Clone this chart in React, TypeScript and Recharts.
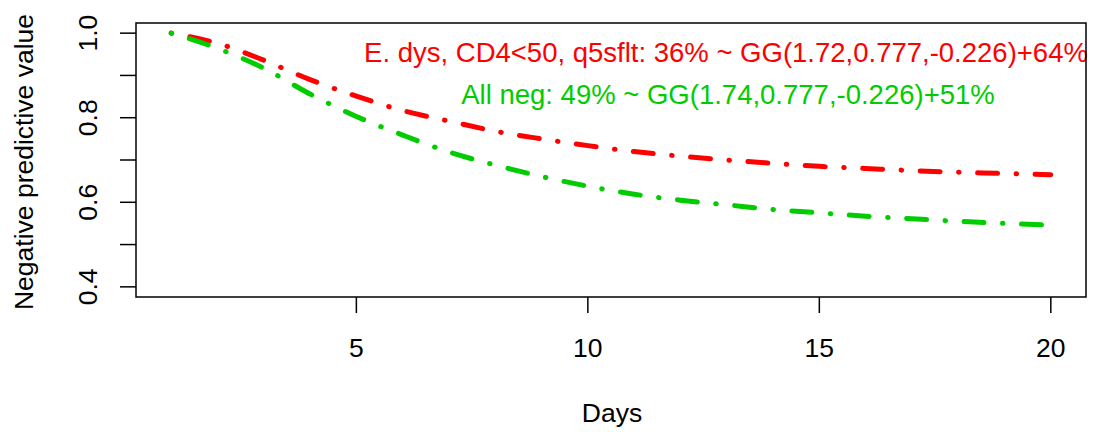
import React from 'react';
import { LineChart, Line, XAxis, YAxis, ReferenceArea } from 'recharts';

const days = [1, 2, 3, 4, 5, 6, 7, 8, 9, 10, 11, 12, 13, 14, 15, 16, 17, 18, 19, 20];
const edysNpv = [1.0, 0.976, 0.936, 0.89, 0.851, 0.817, 0.792, 0.768, 0.75, 0.734, 0.72, 0.709, 0.7, 0.692, 0.685, 0.68, 0.675, 0.671, 0.668, 0.665];
const allNegNpv = [1.0, 0.964, 0.917, 0.856, 0.803, 0.759, 0.719, 0.688, 0.661, 0.638, 0.619, 0.605, 0.594, 0.583, 0.575, 0.567, 0.561, 0.555, 0.55, 0.546];

const xTicks = [5, 10, 15, 20];
const yTicks = [0.4, 0.5, 0.6, 0.7, 0.8, 0.9, 1.0];
const yLabelled = [0.4, 0.6, 0.8, 1.0];

const xDomain = [0.24, 20.76];
const yDomain = [0.376, 1.024];

const edysLabel = 'E. dys, CD4<50, q5sflt: 36% ~ GG(1.72,0.777,-0.226)+64%';
const allNegLabel = 'All neg: 49% ~ GG(1.74,0.777,-0.226)+51%';

const data = days.map((d, i) => ({ day: d, edys: edysNpv[i], allNeg: allNegNpv[i] }));

const FONT = '"Liberation Sans", Arial, Helvetica, sans-serif';
const RED = '#FF0000';
const GREEN = '#00CD00';
const DASH = '0.5 18.5 20 18.5';
const AXIS_FONT = 26.5;

const XTick = ({ x, payload }: any) => (
  <text x={x} y={357} textAnchor="middle" fontFamily={FONT} fontSize={AXIS_FONT} fill="#000">
    {payload.value}
  </text>
);

const YTick = ({ y, payload }: any) => {
  const v = Math.round(payload.value * 10) / 10;
  if (!yLabelled.some((t) => Math.abs(t - v) < 1e-9)) return null;
  return (
    <text
      x={97}
      y={y}
      transform={`rotate(-90, 97, ${y})`}
      textAnchor="middle"
      fontFamily={FONT}
      fontSize={AXIS_FONT}
      fill="#000"
    >
      {v.toFixed(1)}
    </text>
  );
};

export default function App() {
  return (
    <div style={{ position: 'absolute', left: 0, top: 0, width: 1093, height: 432, background: '#fff' }}>
      <LineChart width={1093} height={432} data={data} margin={{ top: 23, right: 7, left: 0, bottom: 0 }}>
        <XAxis
          dataKey="day"
          type="number"
          domain={xDomain}
          ticks={xTicks}
          allowDataOverflow
          height={135}
          axisLine={false}
          tickSize={16}
          tickLine={{ stroke: '#000', strokeWidth: 1.5 }}
          tick={<XTick />}
        />
        <YAxis
          type="number"
          domain={yDomain}
          ticks={yTicks}
          allowDataOverflow
          width={136}
          axisLine={false}
          tickSize={16}
          tickLine={{ stroke: '#000', strokeWidth: 1.5 }}
          tick={<YTick />}
        />
        <ReferenceArea
          x1={xDomain[0]}
          x2={xDomain[1]}
          y1={yDomain[0]}
          y2={yDomain[1]}
          fill="none"
          stroke="#000"
          strokeWidth={1.5}
          ifOverflow="visible"
        />
        <Line
          dataKey="edys"
          type="monotone"
          stroke={RED}
          strokeWidth={5}
          strokeDasharray={DASH}
          strokeLinecap="round"
          dot={false}
          activeDot={false}
          isAnimationActive={false}
        />
        <Line
          dataKey="allNeg"
          type="monotone"
          stroke={GREEN}
          strokeWidth={5}
          strokeDasharray={DASH}
          strokeLinecap="round"
          dot={false}
          activeDot={false}
          isAnimationActive={false}
        />
        <text x={726} y={62} textAnchor="middle" fontFamily={FONT} fontSize={27.5} fill={RED}>
          {edysLabel}
        </text>
        <text x={728} y={104} textAnchor="middle" fontFamily={FONT} fontSize={27.5} fill={GREEN}>
          {allNegLabel}
        </text>
        <text x={612} y={422} textAnchor="middle" fontFamily={FONT} fontSize={AXIS_FONT} fill="#000">
          Days
        </text>
        <text
          x={33}
          y={162}
          transform="rotate(-90, 33, 162)"
          textAnchor="middle"
          fontFamily={FONT}
          fontSize={AXIS_FONT}
          fill="#000"
        >
          Negative predictive value
        </text>
      </LineChart>
    </div>
  );
}
